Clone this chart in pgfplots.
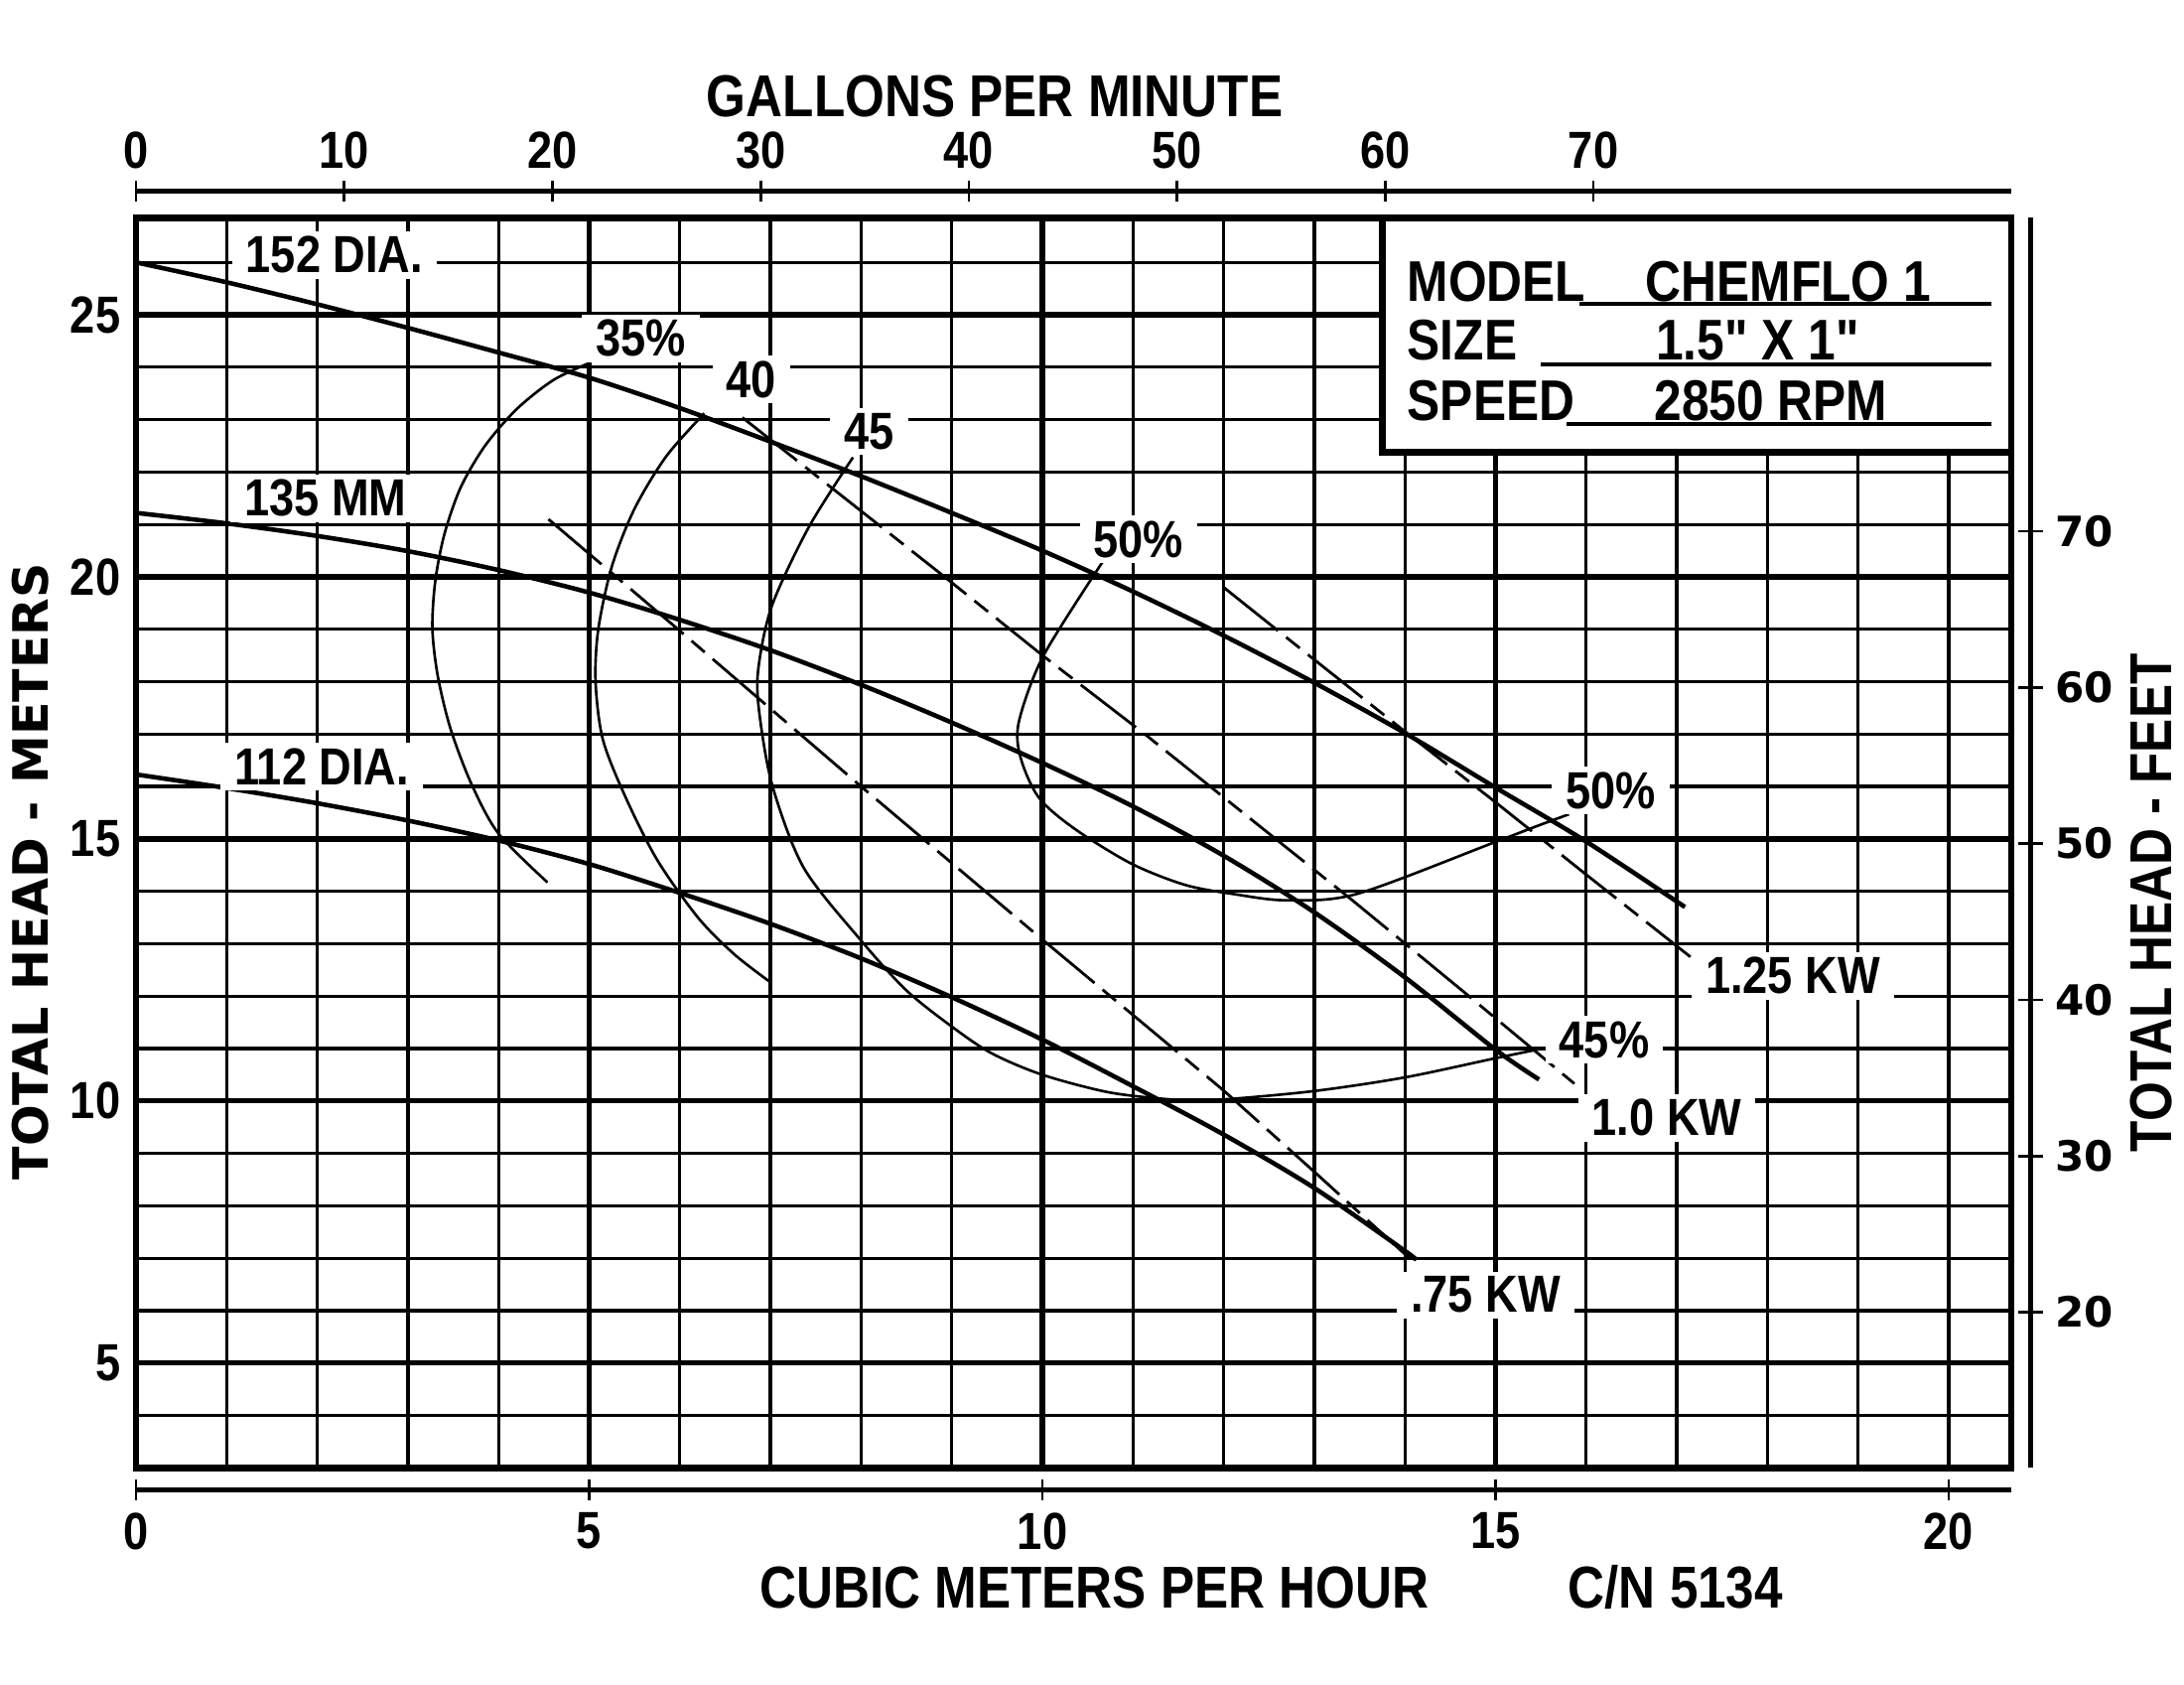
\documentclass[border=0pt]{standalone}
\usepackage{fontspec}
\setmainfont{Liberation Sans}[FakeStretch=0.86]
\newfontfamily\plainfont{Liberation Sans}[FakeStretch=0.86, Ligatures=TeXOff]
\newfontfamily\widefont{DejaVu Sans}
\usepackage{pgfplots}
\pgfplotsset{compat=1.18}

\newcommand\lab{\bfseries\fontsize{15}{18}\selectfont}
\newcommand\ttl{\bfseries\fontsize{17}{20}\selectfont}
\newcommand\leg{\bfseries\fontsize{16.5}{19}\selectfont}

\tikzset{
  head/.style={line width=1.3pt, black, smooth},
  eff/.style={line width=0.75pt, black, smooth},
  kw/.style={line width=0.8pt, black, dash pattern=on 20pt off 3pt on 5pt off 3pt},
  tag/.style={fill=white, inner xsep=4pt, inner ysep=1.5pt, font=\lab},
}

\begin{document}
\begin{tikzpicture}
\begin{axis}[
  name=main,
  at={(0,0)}, anchor=south west,
  width=189.5mm, height=126.3mm, scale only axis,
  xmin=0, xmax=20.69, ymin=3, ymax=26.85,
  xtick={0,...,20}, xticklabels={},
  ytick={3,...,26},
  yticklabels={,,5,,,,,10,,,,,15,,,,,20,,,,,25,},
  yticklabel style={font=\lab, xshift=-1pt},
  /pgf/number format/assume math mode=true,
  major tick length=0pt,
  grid=major,
  major grid style={line width=0.95pt, black},
  extra x ticks={5,10,15},
  extra x tick labels={},
  extra x tick style={major grid style={line width=1.5pt, black}},
  extra y ticks={5,10,15,20,25},
  extra y tick labels={},
  extra y tick style={major grid style={line width=1.5pt, black}},
  axis line style={line width=1.9pt},
  clip=false,
]
% head curves
\addplot[head] coordinates {(0,26.0) (1,25.62) (2,25.2) (3,24.75) (4,24.28) (5,23.8) (6,23.22) (7,22.58) (8,21.92) (9,21.22) (10,20.5) (11,19.72) (12,18.88) (13,17.98) (14,17.02) (15,15.98) (16,14.95) (17.09,13.7)};
\addplot[head] coordinates {(0,21.22) (1,21.02) (2,20.78) (3,20.49) (4,20.13) (5,19.7) (6,19.18) (7,18.6) (8,17.94) (9,17.22) (10,16.45) (11,15.62) (12,14.68) (13,13.6) (14,12.36) (15,10.98) (15.48,10.41)};
\addplot[head] coordinates {(0,16.23) (1,15.97) (2,15.68) (3,15.35) (4,14.97) (5,14.52) (6,13.97) (7,13.38) (8,12.72) (9,11.98) (10,11.17) (11,10.28) (12,9.36) (13,8.34) (14,7.14) (14.1,7.0)};

% power lines
\addplot[kw] coordinates {(4.55,21.1) (6,18.97) (8,16.0) (10,13.08) (12,10.2) (13,8.65) (14.05,7.0)};
\addplot[kw] coordinates {(6.69,23.04) (8.885,20.05) (10.01,18.49) (11.13,17.0) (12.14,15.6) (13.42,13.83) (14.7,12.01) (15.87,10.33)};
\addplot[kw] coordinates {(12,19.8) (13,18.42) (14,17.05) (15,15.7) (16,14.32) (17.15,12.75)};

% efficiency curves
\addplot[eff] coordinates {(5.0,24.08) (4.6,23.75) (4.2,23.2) (3.85,22.5) (3.58,21.7) (3.4,20.8) (3.3,19.9) (3.27,19.0) (3.33,18.1) (3.47,17.1) (3.7,16.05) (4.0,15.1) (4.54,14.17)};
\addplot[eff] coordinates {(6.27,23.12) (5.85,22.3) (5.5,21.3) (5.25,20.2) (5.1,19.0) (5.07,18.0) (5.15,16.9) (5.4,15.8) (5.75,14.6) (6.2,13.5) (6.6,12.8) (6.98,12.29)};
\addplot[eff] coordinates {(7.91,22.28) (7.42,20.94) (7.01,19.42) (6.86,18.15) (6.89,17.23) (7.03,15.96) (7.37,14.44) (8.0,13.06) (8.5,12.11) (9.0,11.42) (9.44,10.91) (10.0,10.5) (10.75,10.16) (11.5,10.02) (12.0,10.03) (13.0,10.19) (14.0,10.45) (15.01,10.82) (15.6,11.03)};
\addplot[eff] coordinates {(10.67,20.3) (10.01,18.49) (9.74,17.23) (9.76,16.55) (9.96,15.79) (10.35,15.2) (10.98,14.53) (11.58,14.12) (12.14,13.94) (12.69,13.83) (13.47,13.95) (14.98,14.93) (15.48,15.26) (15.81,15.47)};

% curve labels
\node[tag] at (axis cs:2.19,26.14) {152 DIA.};
\node[tag] at (axis cs:2.09,21.5) {135 MM};
\node[tag] at (axis cs:2.05,16.38) {112 DIA.};
\node[tag] at (axis cs:5.57,24.55) {35\%};
\node[tag] at (axis cs:6.79,23.77) {40};
\node[tag] at (axis cs:8.09,22.78) {45};
\node[tag] at (axis cs:11.06,20.72) {50\%};
\node[tag] at (axis cs:16.27,15.92) {50\%};
\node[tag] at (axis cs:16.2,11.17) {45\%};
\node[tag] at (axis cs:18.28,12.39) {1.25 KW};
\node[tag] at (axis cs:16.89,9.68) {1.0 KW};
\node[tag] at (axis cs:14.89,6.3) {.75 KW};

% model box
\draw[fill=white, line width=1.9pt] (axis cs:13.75,22.38) rectangle (axis cs:20.69,26.85);
\draw[line width=1.1pt] (axis cs:15.93,25.21) -- (axis cs:20.47,25.21);
\draw[line width=1.1pt] (axis cs:15.5,24.05) -- (axis cs:20.47,24.05);
\draw[line width=1.1pt] (axis cs:15.78,22.91) -- (axis cs:20.47,22.91);
\node[anchor=base west, inner sep=0pt, font=\leg] at (axis cs:14.02,25.26) {MODEL};
\node[anchor=base, inner sep=0pt, font=\leg] at (axis cs:18.23,25.26) {CHEMFLO 1};
\node[anchor=base west, inner sep=0pt, font=\leg] at (axis cs:14.02,24.13) {SIZE};
\node[anchor=base, inner sep=0pt, font=\leg\plainfont] at (axis cs:17.89,24.13) {1.5" X 1"};
\node[anchor=base west, inner sep=0pt, font=\leg] at (axis cs:14.02,22.99) {SPEED};
\node[anchor=base, inner sep=0pt, font=\leg] at (axis cs:18.04,22.99) {2850 RPM};

% axis titles
\node[font=\ttl] at (rel axis cs:0.458,1.097) {GALLONS PER MINUTE};
\node[font=\ttl] at (rel axis cs:0.511,-0.0956) {CUBIC METERS PER HOUR};
\node[font=\ttl] at (rel axis cs:0.821,-0.0956) {C/N 5134};
\node[rotate=90, font=\widefont\bfseries\fontsize{14}{16}\selectfont] at (rel axis cs:-0.0563,0.477) {TOTAL HEAD - METERS};
\node[rotate=90, font=\ttl] at (rel axis cs:1.0748,0.452) {TOTAL HEAD - FEET};
\end{axis}

% bottom scale, cubic meters per hour
\begin{axis}[
  at={(0,-2.24mm)}, anchor=south west,
  width=189.5mm, height=1cm, scale only axis,
  xmin=0, xmax=20.69, ymin=0, ymax=1,
  axis x line*=bottom, axis y line=none,
  x axis line style={-, line width=1.4pt},
  xtick={0,5,...,20},
  tick align=center, major tick length=6pt,
  tick style={line width=0.8pt, black},
  xticklabel style={font=\lab},
  /pgf/number format/assume math mode=true,
]
\end{axis}

% top scale, gallons per minute
\begin{axis}[
  at={(0,128.97mm)}, anchor=north west,
  width=189.5mm, height=1cm, scale only axis,
  xmin=0, xmax=90.07, ymin=0, ymax=1,
  axis x line*=top, axis y line=none,
  x axis line style={-, line width=1.4pt},
  xtick={0,10,...,70},
  tick align=center, major tick length=6pt,
  tick style={line width=0.8pt, black},
  xticklabel style={font=\lab},
  /pgf/number format/assume math mode=true,
]
\end{axis}

% right scale, feet
\begin{axis}[
  at={(191.46mm,0)}, anchor=south east,
  width=1cm, height=126.3mm, scale only axis,
  xmin=0, xmax=1, ymin=10.03, ymax=90.07,
  axis y line*=right, axis x line=none,
  y axis line style={-, line width=1.4pt},
  ytick={20,30,...,70},
  tick align=center, major tick length=7pt,
  tick style={line width=0.8pt, black},
  yticklabel style={font=\widefont\bfseries\fontsize{12}{14}\selectfont},
  /pgf/number format/assume math mode=true,
]
\end{axis}

\path (0,0) ++(-13.75mm,-21.89mm) rectangle ++(220mm,170.2mm);
\end{tikzpicture}
\end{document}
